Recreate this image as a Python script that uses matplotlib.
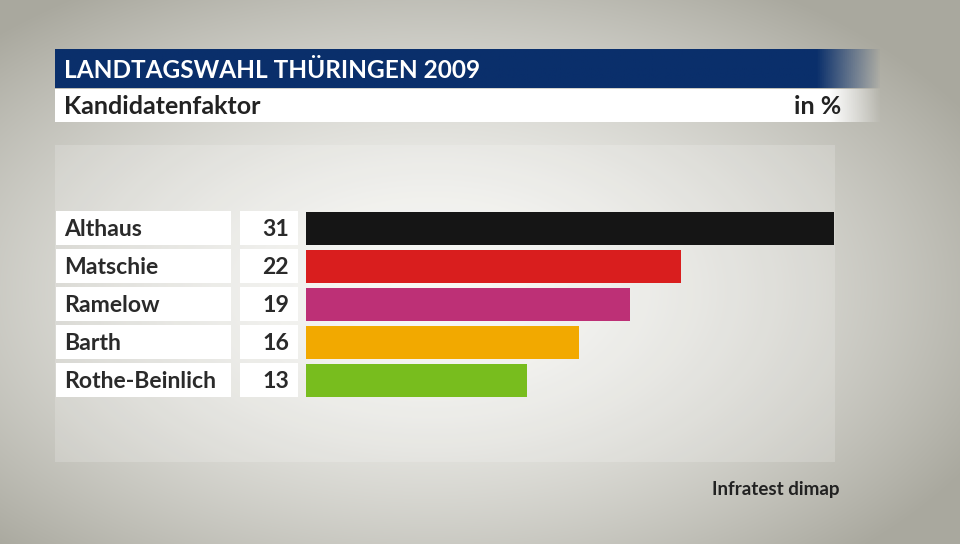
import numpy as np
import matplotlib.pyplot as plt
from matplotlib.patches import Rectangle
from matplotlib.colors import to_rgb

names = ['Althaus', 'Matschie', 'Ramelow', 'Barth', 'Rothe-Beinlich']
values = [31, 22, 19, 16, 13]
colors = ['#151515', '#d91e1e', '#bd3076', '#f2a900', '#78bd1e']
title = 'LANDTAGSWAHL THÜRINGEN 2009'
subtitle = 'Kandidatenfaktor'
unit = 'in %'
source = 'Infratest dimap'

W, H = 960, 544
fig = plt.figure(figsize=(9.6, 5.44), dpi=100)

# background gradient
bg = fig.add_axes([0, 0, 1, 1])
bg.set_xlim(0, W)
bg.set_ylim(H, 0)
bg.axis('off')
yy, xx = np.mgrid[0:H, 0:W]
d = np.sqrt(((xx - 430) / 620.0) ** 2 + ((yy - 290) / 360.0) ** 2)
t = np.clip(d, 0, 1) ** 1.6
c0 = np.array(to_rgb('#f7f7f4'))
c1 = np.array(to_rgb('#a9a89e'))
img = c0 * (1 - t[..., None]) + c1 * t[..., None]
bg.imshow(img, extent=(0, W, H, 0), aspect='auto', zorder=0)
bg.add_patch(Rectangle((55, 145), 780, 317, color='white', alpha=0.18, lw=0, zorder=1))

def fade_bar(x0, x1, y0, y1, color, fade_start):
    n = 400
    xs = np.linspace(x0, x1, n)
    a = np.clip((x1 - xs) / (x1 - fade_start), 0, 1)
    rgba = np.zeros((1, n, 4))
    rgba[..., :3] = to_rgb(color)
    rgba[0, :, 3] = a
    bg.imshow(rgba, extent=(x0, x1, y1, y0), aspect='auto', zorder=2)

fade_bar(55, 882, 49, 88, '#0a2f6b', 818)
fade_bar(55, 882, 89, 122, '#ffffff', 830)
bg.set_xlim(0, W)
bg.set_ylim(H, 0)

font = 'Lato'
bg.text(64, 70, title, color='white', fontsize=17.6, fontweight='bold',
        family=font, va='center', ha='left', zorder=3)
bg.text(64, 106, subtitle, color='#222222', fontsize=18, fontweight='bold',
        family=font, va='center', ha='left', zorder=3)
bg.text(841, 106, unit, color='#222222', fontsize=18, fontweight='bold',
        family=font, va='center', ha='right', zorder=3)
bg.text(840, 489, source, color='#222222', fontsize=13.5, fontweight='bold',
        family=font, va='center', ha='right', zorder=3)

# label boxes
for i, (n, v) in enumerate(zip(names, values)):
    yc = 228 + 38 * i
    bg.add_patch(Rectangle((56, yc - 17), 175, 34, color='white', lw=0, zorder=2))
    bg.add_patch(Rectangle((240, yc - 17), 58, 34, color='white', lw=0, zorder=2))
    bg.text(64, yc + 1, n, color='#2a2a2a', fontsize=16.6, fontweight='bold',
            family=font, va='center', ha='left', zorder=3)
    bg.text(289, yc + 1, str(v), color='#2a2a2a', fontsize=16.6, fontweight='bold',
            family=font, va='center', ha='right', zorder=3)

# bars
ax = fig.add_axes([306 / W, 1 - 399 / H, (834 - 306) / W, 190 / H])
ax.barh(range(len(values)), values, height=33 / 38, color=colors, align='center')
ax.set_xlim(0, 31)
ax.set_ylim(4.5, -0.5)
ax.axis('off')
ax.patch.set_alpha(0)

fig.savefig('out.png', dpi=100)
